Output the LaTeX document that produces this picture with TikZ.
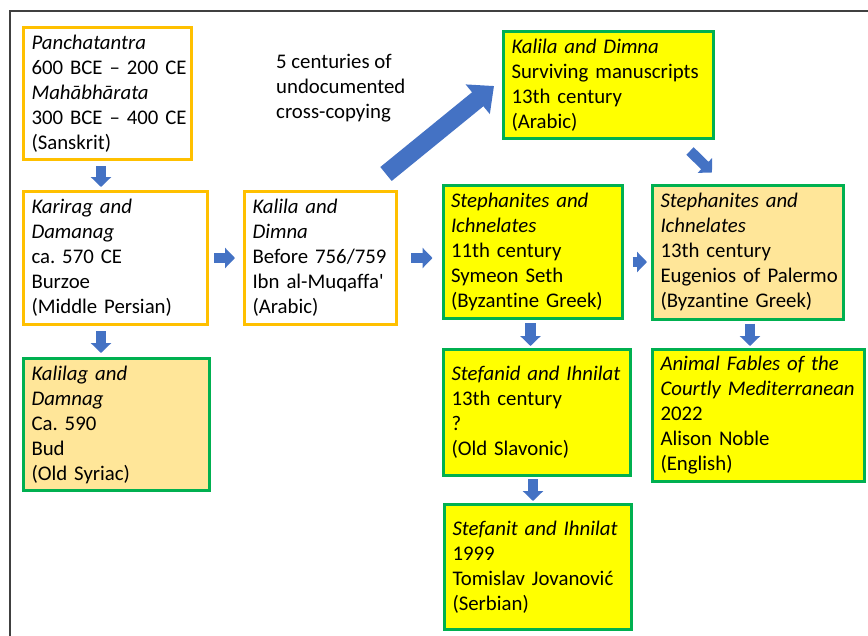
\documentclass[tikz,border=0pt]{standalone}
\usepackage{fontspec}
\setmainfont{Carlito}[Ligatures={TeXOff,NoCommon}]
\usetikzlibrary{arrows.meta}
\definecolor{obord}{HTML}{FFC000}
\definecolor{gbord}{HTML}{00B050}
\definecolor{yfill}{HTML}{FFFF00}
\definecolor{ofill}{HTML}{FFE699}
\definecolor{ablue}{HTML}{4472C4}
\definecolor{framec}{HTML}{404040}
\begin{document}
\frenchspacing
\begin{tikzpicture}[x=1pt,y=-1pt,
  txt/.style={font=\fontsize{20.8}{25}\selectfont\frenchspacing},
  box/.style={draw, line width=3pt, inner xsep=8pt, inner ysep=0pt, align=left, txt},
  obox/.style={box, draw=obord, fill=white},
  gybox/.style={box, draw=gbord, fill=yfill},
  gobox/.style={box, draw=gbord, fill=ofill},
  sarrow/.style={draw=ablue, line width=10.5pt, -{Triangle[width=20pt,length=10pt]}, ablue},
  barrow/.style={draw=ablue, line width=18pt, -{Triangle[width=37pt,length=21pt]}, ablue}
]
\useasboundingbox (0,0) rectangle (868,635);
\draw[framec, line width=1.5pt] (10,645) -- (10,11) -- (880,11);

\node[obox, minimum width=168pt, minimum height=132pt, text width=152pt] (b1) at (107.5,93.5)
  {{\itshape Panchatantra}\\\mbox{600 BCE – 200 CE}\\{\itshape Mahābhārata}\\\mbox{300 BCE – 400 CE}\\(Sanskrit)};
\node[obox, minimum width=184pt, minimum height=133pt, text width=168pt] (b2) at (115.5,258)
  {{\itshape Karirag and}\\{\itshape Damanag}\\ca. 570 CE\\Burzoe\\\mbox{(Middle Persian)}};
\node[gobox, minimum width=186pt, minimum height=132pt, text width=170pt] (b3) at (116.5,424.5)
  {{\itshape Kalilag and}\\{\itshape Damnag}\\Ca. 590\\Bud\\(Old Syriac)};
\node[obox, minimum width=152pt, minimum height=133pt, text width=136pt] (b4) at (320.5,258)
  {{\itshape Kalila and}\\{\itshape Dimna}\\\mbox{Before 756/759}\\\mbox{Ibn al-Muqaffa'}\\(Arabic)};
\node[gybox, minimum width=179pt, minimum height=133pt, text width=163pt] (b5) at (532.5,252)
  {{\itshape Stephanites and}\\{\itshape Ichnelates}\\11th century\\Symeon Seth\\\mbox{(Byzantine Greek)}};
\node[gybox, minimum width=210pt, minimum height=107pt, text width=194pt] (b6) at (608.5,85)
  {{\itshape Kalila and Dimna}\\\mbox{Surviving manuscripts}\\13th century\\(Arabic)};
\node[gobox, minimum width=191pt, minimum height=134pt, text width=175pt] (b7) at (748,252)
  {{\itshape Stephanites and}\\{\itshape Ichnelates}\\13th century\\\mbox{Eugenios of Palermo}\\\mbox{(Byzantine Greek)}};
\node[gybox, minimum width=187pt, minimum height=126pt, text width=171pt] (b8) at (537,412.5)
  {\mbox{\itshape Stefanid and Ihnilat}\\13th century\\?\\(Old Slavonic)};
\node[gybox, minimum width=187pt, minimum height=125pt, text width=171pt] (b9) at (538,567)
  {\mbox{\itshape Stefanit and Ihnilat}\\1999\\\mbox{Tomislav Jovanović}\\(Serbian)};
\node[gybox, minimum width=212pt, minimum height=132pt, text width=196pt] (b10) at (758.5,415.5)
  {\mbox{\itshape Animal Fables of the}\\\mbox{\itshape Courtly Mediterranean}\\2022\\Alison Noble\\(English)};

\node[txt, align=left, anchor=west, inner sep=0pt] (note) at (276,88)
  {5 centuries of\\undocumented\\cross-copying};

\draw[sarrow] ([xshift=-6.5pt,yshift=-5pt]b1.south) -- ([xshift=-14.5pt,yshift=3pt]b2.north);
\draw[sarrow] ([xshift=-14.5pt,yshift=-5pt]b2.south) -- ([xshift=-15.5pt,yshift=4pt]b3.north);
\draw[sarrow] ([xshift=5pt]b2.east) -- ([xshift=-8pt]b4.west);
\draw[sarrow] ([xshift=13pt]b4.east) -- ([xshift=-9pt,yshift=-6pt]b5.west);
\draw[sarrow] ([xshift=9pt,yshift=-10pt]b5.east) -- ([xshift=-4pt,yshift=-10pt]b7.west);
\draw[sarrow] ([xshift=-2pt,yshift=-3pt]b5.south) -- ([xshift=-6.5pt,yshift=2pt]b8.north);
\draw[sarrow] ([xshift=-4pt,yshift=-2pt]b8.south) -- ([xshift=-5pt,yshift=2pt]b9.north);
\draw[sarrow] ([xshift=2pt,yshift=-3pt]b7.south) -- ([xshift=-8.5pt,yshift=2pt]b10.north);
\draw[sarrow] ([xshift=81.5pt,yshift=-11pt]b6.south) -- ([xshift=-36pt,yshift=11pt]b7.north);
\draw[barrow] ([xshift=65.5pt,yshift=16pt]b4.north) -- ([xshift=-8pt,yshift=-1pt]b6.west);
\end{tikzpicture}
\end{document}
